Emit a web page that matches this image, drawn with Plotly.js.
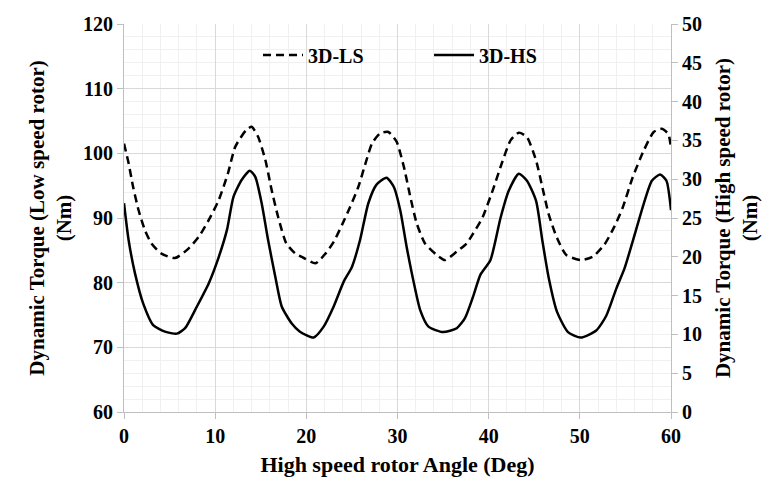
<!DOCTYPE html>
<html>
<head>
<meta charset="utf-8">
<script src="https://cdn.plot.ly/plotly-3.0.1.min.js"></script>
<style>html,body{margin:0;padding:0;background:#fff;}#chart{width:783px;height:491px;}</style>
</head>
<body>
<div id="chart"></div>
<script>
// 3D-LS : dynamic torque on the low speed rotor (left axis, Nm)
const lsAngle = [0, 0.5, 1.0, 1.6, 2.3, 3.0, 4.1, 5.6, 7.1, 8.2, 9.3, 10.4, 11.4, 12.2, 13.4, 14.0, 14.7, 15.5, 16.2, 16.9, 17.8, 18.8, 19.5, 21.0, 22.1, 23.0, 23.9, 24.8, 25.7, 26.5, 27.2, 28.1, 29.0, 29.9, 30.7, 31.4, 32.1, 33.0, 34.3, 35.2, 36.5, 37.6, 38.3, 39.3, 40.5, 41.5, 42.4, 43.3, 44.2, 45.2, 45.9, 46.6, 47.5, 48.5, 50.1, 51.4, 52.7, 53.8, 54.7, 55.8, 57.0, 58.1, 59.0, 59.7, 60];
const lsTorque = [101.5, 98.5, 94.8, 91.2, 88.1, 86.1, 84.5, 83.8, 85.3, 87.1, 89.7, 92.8, 96.9, 101.0, 103.6, 104.1, 102.6, 99.0, 94.3, 90.2, 86.1, 84.5, 84.0, 83.0, 84.5, 86.3, 88.9, 91.7, 94.8, 98.5, 101.5, 103.1, 103.3, 101.8, 97.9, 93.3, 89.2, 86.1, 84.3, 83.5, 84.8, 86.1, 87.6, 90.0, 94.5, 98.7, 102.0, 103.2, 102.5, 98.9, 94.7, 90.5, 86.9, 84.3, 83.5, 84.0, 85.9, 88.7, 91.6, 96.3, 100.4, 103.3, 103.8, 103.0, 100.8];

// 3D-HS : dynamic torque on the high speed rotor (right axis, Nm)
const hsAngle = [0, 0.5, 1.2, 2.1, 3.2, 4.5, 5.8, 6.7, 8.0, 9.3, 10.4, 11.3, 12.0, 12.9, 13.8, 14.4, 15.1, 15.8, 16.6, 17.3, 18.4, 19.3, 20.8, 21.9, 23.0, 24.1, 25.0, 25.9, 26.8, 27.7, 28.8, 29.6, 30.3, 31.0, 31.8, 32.5, 33.4, 35.0, 36.5, 37.4, 38.3, 39.1, 40.2, 41.3, 42.2, 43.3, 44.2, 45.2, 45.9, 46.6, 47.5, 48.7, 50.1, 51.8, 52.9, 54.0, 54.9, 55.8, 57.0, 57.9, 58.8, 59.5, 60];
const hsTorque = [26.9, 22.2, 17.9, 14.0, 11.2, 10.35, 10.1, 10.8, 13.6, 16.6, 20.0, 23.5, 27.7, 29.9, 31.1, 30.3, 26.9, 22.2, 17.4, 13.6, 11.4, 10.35, 9.6, 11.0, 13.6, 16.8, 18.7, 22.2, 26.9, 29.3, 30.2, 29.0, 26.0, 21.3, 16.6, 13.1, 11.0, 10.3, 10.8, 12.1, 14.9, 17.7, 19.6, 25.0, 28.5, 30.7, 29.8, 27.2, 22.0, 17.2, 12.9, 10.3, 9.6, 10.5, 12.4, 15.9, 18.5, 22.0, 26.8, 29.8, 30.6, 29.8, 26.0];

const xTicks = [0, 10, 20, 30, 40, 50, 60];

const FONT = 'Liberation Serif, Times New Roman, serif';

const traces = [
  {
    x: lsAngle, y: lsTorque, name: '3D-LS', type: 'scatter', mode: 'lines',
    line: {color: '#000000', width: 2.5, dash: '8px,5px', shape: 'spline', smoothing: 0.6},
    yaxis: 'y'
  },
  {
    x: hsAngle, y: hsTorque, name: '3D-HS', type: 'scatter', mode: 'lines',
    line: {color: '#000000', width: 2.5, shape: 'spline', smoothing: 0.6},
    yaxis: 'y2'
  }
];

const layout = {
  width: 783, height: 491,
  margin: {l: 123.5, r: 112, t: 24, b: 79},
  paper_bgcolor: '#ffffff', plot_bgcolor: '#ffffff',
  font: {family: FONT, size: 20, color: '#000000', weight: 'bold'},
  showlegend: true,
  legend: {
    orientation: 'h', x: 0.245, y: 0.92, xanchor: 'left', yanchor: 'middle',
    font: {family: FONT, size: 20, color: '#000', weight: 'bold'},
    itemwidth: 40,
    bgcolor: 'rgba(255,255,255,0)', entrywidth: 116, entrywidthmode: 'pixels'
  },
  xaxis: {
    range: [0, 60], tickvals: xTicks, ticktext: xTicks.map(String),
    showline: true, linecolor: '#bfbfbf', linewidth: 1,
    ticks: 'outside', ticklen: 6, tickcolor: '#bfbfbf',
    showgrid: true, gridcolor: '#d9d9d9', gridwidth: 1,
    minor: {dtick: 2, showgrid: true, gridcolor: '#f0f0f0', ticks: ''},
    zeroline: false,
    tickfont: {family: FONT, size: 20, color: '#000', weight: 'bold'},
    title: {text: 'High speed rotor Angle (Deg)', font: {family: FONT, size: 22, color: '#000', weight: 'bold'}, standoff: 10}
  },
  yaxis: {
    range: [60, 120], dtick: 10,
    showline: true, linecolor: '#bfbfbf', linewidth: 1,
    ticks: 'outside', ticklen: 6, tickcolor: '#bfbfbf',
    showgrid: true, gridcolor: '#d9d9d9', gridwidth: 1,
    minor: {dtick: 2, showgrid: true, gridcolor: '#f0f0f0', ticks: ''},
    zeroline: false,
    tickfont: {family: FONT, size: 20, color: '#000', weight: 'bold'},
    title: {text: 'Dynamic Torque (Low speed rotor)<br>(Nm)', font: {family: FONT, size: 21, color: '#000', weight: 'bold'}, standoff: 5}
  },
  yaxis2: {
    range: [0, 50], dtick: 5, overlaying: 'y', side: 'right',
    showline: true, linecolor: '#bfbfbf', linewidth: 1,
    ticks: 'outside', ticklen: 6, tickcolor: '#bfbfbf',
    showgrid: false, zeroline: false,
    tickfont: {family: FONT, size: 20, color: '#000', weight: 'bold'},
    title: {text: 'Dynamic Torque (High speed rotor)<br>(Nm)', font: {family: FONT, size: 21, color: '#000', weight: 'bold'}, standoff: 14}
  }
};

Plotly.newPlot('chart', traces, layout, {displayModeBar: false, staticPlot: true});
</script>
</body>
</html>
